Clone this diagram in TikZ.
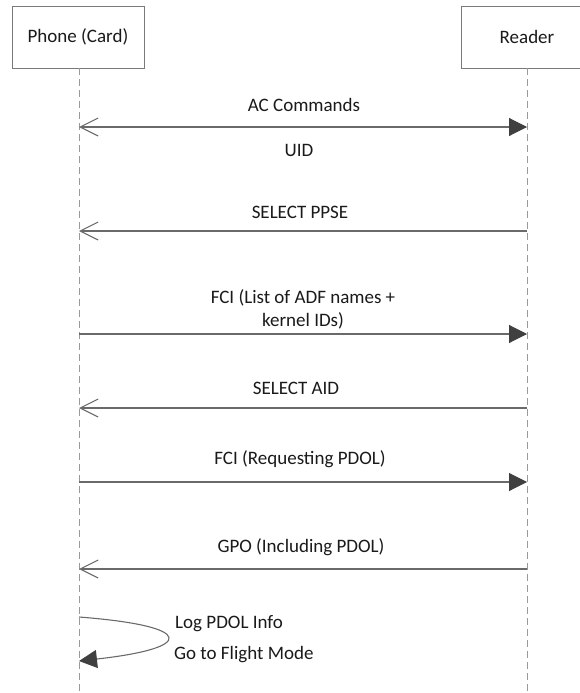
\documentclass[tikz,border=0pt]{standalone}
\usepackage{fontspec}
\setmainfont{Carlito}
\usetikzlibrary{arrows.meta}
\definecolor{boxgray}{HTML}{7A7A7A}
\definecolor{lifegray}{HTML}{9A9A9A}
\definecolor{linegray}{HTML}{6A6A6A}
\definecolor{headgray}{HTML}{404040}
\definecolor{txt}{HTML}{1A1A1A}
\begin{document}
\begin{tikzpicture}[x=1pt,y=-1pt,
  actor/.style={draw=boxgray, line width=0.9pt, minimum width=132pt, minimum height=62pt, inner sep=0pt, font=\fontsize{19}{22}\selectfont, text=txt},
  life/.style={draw=lifegray, line width=0.9pt, dash pattern=on 7pt off 4pt},
  msg/.style={draw=linegray, line width=1.1pt},
  openhead/.style={-{Straight Barb[length=18pt,width=18pt,line width=1.1pt]}},
  fillhead/.style={-{Triangle[length=18pt,width=18pt,fill=headgray,color=headgray]}},
  both/.style={{Straight Barb[length=18pt,width=18pt,line width=1.1pt]}-{Triangle[length=18pt,width=18pt,fill=headgray,color=headgray]}},
  lbl/.style={font=\fontsize{19}{23}\selectfont, text=txt, inner sep=0pt, align=center}
]
\useasboundingbox (0,0) rectangle (579,693);
\fill[white] (0,0) rectangle (579,693);

\node[actor] (phone) at (78,37) {Phone (Card)};
\node[actor] (reader) at (527,37) {Reader};
\coordinate (pend) at (79,693);
\coordinate (rend) at (527,693);
\draw[life] (phone.south -| pend) -- (pend);
\draw[life] (reader.south -| rend) -- (rend);

% coordinates on lifelines
\foreach \n/\y in {1/127,2/231,3/334,4/408,5/482,6/569,7/617,8/661}{
  \coordinate (p\n) at (79,\y);
  \coordinate (r\n) at (527,\y);
}

\draw[msg,both] (p1) -- (r1);
\node[lbl] (l1) at (304,105) {AC Commands};
\node[lbl] (l1b) at (299,150) {UID};

\draw[msg,openhead] (r2) -- (p2);
\node[lbl] (l2) at (300,212) {SELECT PPSE};

\draw[msg,fillhead] (p3) -- (r3);
\node[lbl] (l3) at (303,309) {FCI (List of ADF names +\\kernel IDs)};

\draw[msg,openhead] (r4) -- (p4);
\node[lbl] (l4) at (296,388) {SELECT AID};

\draw[msg,fillhead] (p5) -- (r5);
\node[lbl] (l5) at (300,459) {FCI (Requesting PDOL)};

\draw[msg,openhead] (r6) -- (p6);
\node[lbl] (l6) at (301,547) {GPO (Including PDOL)};

\draw[msg,fillhead] (p7) .. controls (196,626) and (196,648) .. (p8);
\node[lbl, anchor=west] (l7) at (175,624) {Log PDOL Info};
\node[lbl, anchor=west] (l8) at (174,655) {Go to Flight Mode};
\end{tikzpicture}
\end{document}
